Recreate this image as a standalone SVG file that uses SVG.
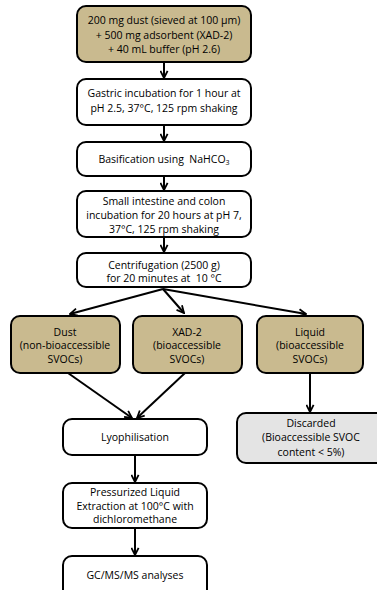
<svg xmlns="http://www.w3.org/2000/svg" width="377" height="590" viewBox="0 0 377 590">
<style>
.box{stroke:#000;stroke-width:2;}
.tan{fill:#c9ba8f;}
.white{fill:#fff;}
.grey{fill:#e4e4e4;}
text{font-family:"Open Sans","Liberation Sans",sans-serif;font-size:10.5px;fill:#000;text-anchor:middle;white-space:pre;}
.conn{stroke:#000;stroke-width:2;fill:none;marker-end:url(#ah);}
</style>
<defs>
<marker id="ah" viewBox="0 0 10 10" refX="9" refY="5" markerWidth="4.5" markerHeight="4.5" orient="auto" markerUnits="strokeWidth">
<path d="M1,1 L9,5 L1,9" fill="none" stroke="#000" stroke-width="2"/>
</marker>
</defs>
<rect width="377" height="590" fill="#fff"/>
<g id="connectors">
<path class="conn" d="M164,62 L164,78"/>
<path class="conn" d="M164,125 L164,141"/>
<path class="conn" d="M164,176 L164,190"/>
<path class="conn" d="M164,237 L164,252"/>
<path class="conn" d="M163,289 L70,314"/>
<path class="conn" d="M163,289 L184,313"/>
<path class="conn" d="M163,289 L306,314"/>
<path class="conn" d="M68,373 L132,418"/>
<path class="conn" d="M185,373 L137,418"/>
<path class="conn" d="M310,373 L310,412"/>
<path class="conn" d="M135,455 L135,482"/>
<path class="conn" d="M135,528 L135,555"/>
</g>
<g id="n1"><rect class="box tan" x="77" y="6" width="174" height="56" rx="9"/>
<text x="164" y="24">200 mg dust (sieved at 100 µm)</text>
<text x="164" y="39">+ 500 mg adsorbent (XAD-2)</text>
<text x="164" y="53">+ 40 mL buffer (pH 2.6)</text></g>
<g id="n2"><rect class="box white" x="77" y="79" width="174" height="46" rx="9"/>
<text x="164" y="97">Gastric incubation for 1 hour at</text>
<text x="164" y="112">pH 2.5, 37°C, 125 rpm shaking</text></g>
<g id="n3"><rect class="box white" x="77" y="142" width="174" height="34" rx="9"/>
<text x="164" y="163">Basification using&#160; NaHCO<tspan font-size="7" dy="2">3</tspan></text></g>
<g id="n4"><rect class="box white" x="77" y="191" width="174" height="46" rx="9"/>
<text x="164" y="205">Small intestine and colon</text>
<text x="164" y="219">incubation for 20 hours at pH 7,</text>
<text x="164" y="233">37°C, 125 rpm shaking</text></g>
<g id="n5"><rect class="box white" x="77" y="253" width="174" height="34" rx="9"/>
<text x="164" y="269">Centrifugation (2500 g)</text>
<text x="164" y="282">for 20 minutes at&#160; 10 °C</text></g>
<g id="n6"><rect class="box tan" x="11" y="316" width="109" height="57" rx="9"/>
<text x="65" y="336">Dust</text>
<text x="65" y="349">(non-bioaccessible</text>
<text x="65" y="363">SVOCs)</text></g>
<g id="n7"><rect class="box tan" x="133" y="316" width="109" height="57" rx="9"/>
<text x="187" y="336">XAD-2</text>
<text x="187" y="349">(bioaccessible</text>
<text x="187" y="363">SVOCs)</text></g>
<g id="n8"><rect class="box tan" x="257" y="316" width="106" height="57" rx="9"/>
<text x="310" y="336">Liquid</text>
<text x="310" y="349">(bioaccessible</text>
<text x="310" y="363">SVOCs)</text></g>
<g id="n9"><rect class="box grey" x="237" y="413" width="148" height="50" rx="9"/>
<text x="311" y="427">Discarded</text>
<text x="311" y="441">(Bioaccessible SVOC</text>
<text x="311" y="456">content &lt; 5%)</text></g>
<g id="n10"><rect class="box white" x="63" y="419" width="144" height="36" rx="9"/>
<text x="135" y="441">Lyophilisation</text></g>
<g id="n11"><rect class="box white" x="63" y="483" width="144" height="45" rx="9"/>
<text x="135" y="496">Pressurized Liquid</text>
<text x="135" y="510">Extraction at 100°C with</text>
<text x="135" y="523">dichloromethane</text></g>
<g id="n12"><rect class="box white" x="63" y="556" width="144" height="44" rx="9"/>
<text x="135" y="579">GC/MS/MS analyses</text></g>
</svg>
